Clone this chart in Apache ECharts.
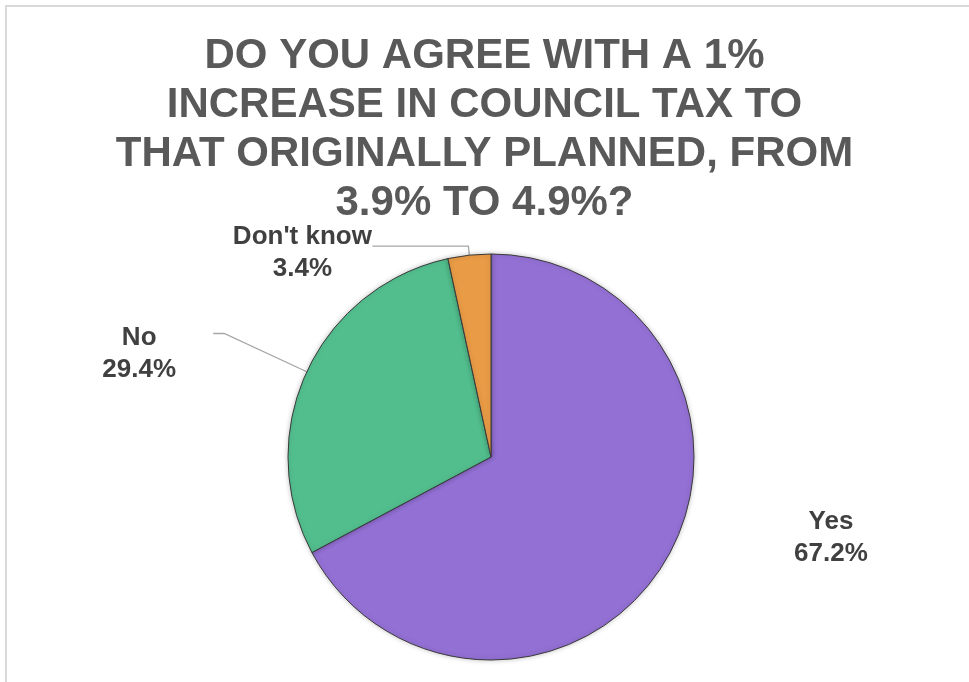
<!DOCTYPE html>
<html><head><meta charset="utf-8">
<script src="https://cdn.jsdelivr.net/npm/echarts@6/dist/echarts.min.js"></script>
<style>html,body{margin:0;padding:0;background:#fff}#c{width:969px;height:682px}</style>
</head><body><div id="c"></div>
<script>
const categories = ['Yes', 'No', "Don't know"];
const values = [67.2, 29.4, 3.4];
const titleLines = ['DO YOU AGREE WITH A 1%', 'INCREASE IN COUNCIL TAX TO', 'THAT ORIGINALLY PLANNED, FROM', '3.9% TO 4.9%?'];

// styling
const sliceColors = ['#9370D4', '#52BE8E', '#E99B45'];
const lineLens = [[15, 15], [91, 11], [9, 96]];
const labelShift = [[133, -31], [-69, 20], [-65, 7]];
const showLine = [false, true, true];
const FONT = '"Liberation Sans", Arial, sans-serif';

const chart = echarts.init(document.getElementById('c'));
chart.setOption({
  backgroundColor: '#fff',
  animation: false,
  title: {
    text: titleLines.join('\n'),
    left: 'center',
    top: 27,
    textStyle: { fontFamily: FONT, fontWeight: 'bold', fontSize: 42, lineHeight: 49, color: '#595959' }
  },
  graphic: [
    { type: 'line', shape: { x1: 5, y1: 6, x2: 969, y2: 6 }, style: { stroke: '#d9d9d9', lineWidth: 2 } },
    { type: 'line', shape: { x1: 6, y1: 5, x2: 6, y2: 682 }, style: { stroke: '#d9d9d9', lineWidth: 2 } }
  ],
  series: [{
    type: 'pie',
    center: [491, 457],
    radius: 203,
    startAngle: 90,
    clockwise: true,
    avoidLabelOverlap: false,
    itemStyle: { borderColor: '#3a3a3a', borderWidth: 1, shadowBlur: 5, shadowColor: 'rgba(0,0,0,0.22)' },
    label: {
      show: true,
      position: 'outside',
      formatter: p => p.name + '\n' + p.value.toFixed(1) + '%',
      fontFamily: FONT, fontWeight: 'bold', fontSize: 26, lineHeight: 32, color: '#404040',
      distanceToLabelLine: 5
    },
    labelLine: { lineStyle: { color: '#A6A6A6', width: 1.3 } },
    labelLayout: function (params) {
      const i = params.dataIndex;
      return { dx: labelShift[i][0], dy: labelShift[i][1], align: 'center' };
    },
    data: categories.map((n, i) => ({
      name: n,
      value: values[i],
      itemStyle: { color: sliceColors[i] },
      labelLine: { show: showLine[i], length: lineLens[i][0], length2: lineLens[i][1] }
    }))
  }]
});
</script></body></html>
